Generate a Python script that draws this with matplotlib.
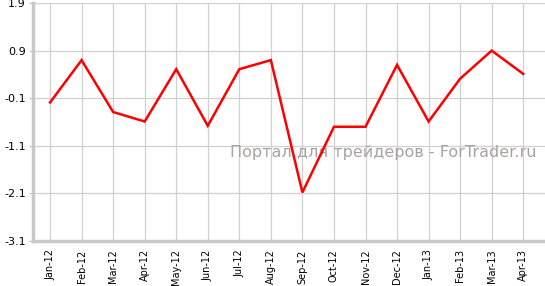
import numpy as np
import matplotlib.pyplot as plt

# Data
months = ["Jan-12", "Feb-12", "Mar-12", "Apr-12", "May-12", "Jun-12", "Jul-12", "Aug-12",
          "Sep-12", "Oct-12", "Nov-12", "Dec-12", "Jan-13", "Feb-13", "Mar-13", "Apr-13"]
values = [-0.19, 0.70, -0.39, -0.59, 0.51, -0.68, 0.51, 0.70,
          -2.08, -0.70, -0.70, 0.60, -0.59, 0.31, 0.90, 0.41]
y_ticks = [-3.1, -2.1, -1.1, -0.1, 0.9, 1.9]
watermark = "Портал для трейдеров - ForTrader.ru"

# Figure
fig = plt.figure(figsize=(5.45, 2.86), dpi=100)
ax = fig.add_axes([33 / 545, 1 - 241 / 286, 1 - 33 / 545, 238 / 286])

x = np.arange(len(months))
ax.plot(x, values, color="#ff0000", linewidth=1.8, zorder=3, solid_joinstyle="miter")

ax.set_xlim(-0.54, 15.69)
ax.set_ylim(-3.1, 1.9)
ax.set_yticks(y_ticks)
ax.set_yticklabels(["%.1f" % v for v in y_ticks], fontsize=8, family="DejaVu Sans")
ax.set_xticks(x)
ax.set_xticklabels(months, rotation=90, fontsize=7, family="DejaVu Sans")

ax.grid(True, color="#d0d0d0", linewidth=0.9)
ax.set_axisbelow(True)
for side in ["top", "right"]:
	ax.spines[side].set_visible(False)
for side in ["left", "bottom"]:
	ax.spines[side].set_color("#c8c8c8")
	ax.spines[side].set_linewidth(2.5)
ax.tick_params(axis="y", length=3, width=1, color="#c8c8c8", pad=2)
ax.tick_params(axis="x", length=0, pad=6)

ax.text(0.984, 0.37, watermark, transform=ax.transAxes, ha="right", va="center",
	fontsize=11.5, color="#aaa2a2", zorder=2)

plt.savefig("out.png", dpi=100)
